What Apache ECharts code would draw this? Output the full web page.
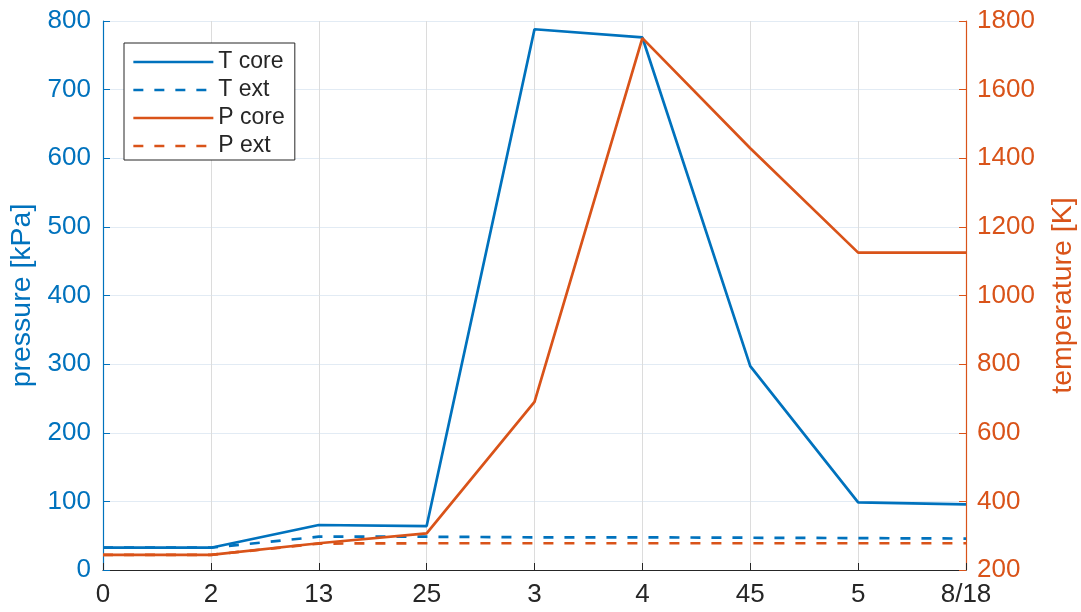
<!DOCTYPE html>
<html>
<head>
<meta charset="utf-8">
<script src="https://cdn.jsdelivr.net/npm/echarts@6/dist/echarts.min.js"></script>
<style>
  html, body { margin: 0; padding: 0; background: #fff; }
  #chart { width: 1081px; height: 612px; }
</style>
</head>
<body>
<div id="chart"></div>
<script>
// Stage labels along the x axis
const categories = ['0', '2', '13', '25', '3', '4', '45', '5', '8/18'];

// Left axis series (kPa)
const tCore = [32.5, 32.5, 65.6, 64, 788, 776, 297, 98.6, 95.7];
const tExt  = [32.5, 32.5, 48.5, 48.5, 47.6, 47.6, 47, 46.5, 45.8];

// Right axis series (K)
const pCore = [244, 244, 278, 307, 690, 1750, 1429, 1125, 1125];
const pExt  = [244, 244, 277, 278, 278, 278, 278, 278, 278];

const BLUE = '#0072BD';
const ORANGE = '#D95319';
const DARK = '#262626';
const FONT = '"Liberation Sans", Arial, sans-serif';

const chart = echarts.init(document.getElementById('chart'), null, { renderer: 'canvas' });

function lineSeries(name, data, color, dashed, yIndex) {
  return {
    name: name,
    type: 'line',
    yAxisIndex: yIndex,
    data: data,
    symbol: 'none',
    showSymbol: false,
    animation: false,
    lineStyle: { color: color, width: 2.7, type: dashed ? [10, 11] : 'solid' },
    itemStyle: { color: color }
  };
}

chart.setOption({
  animation: false,
  backgroundColor: '#fff',
  grid: { left: 103, right: 115, top: 21, bottom: 42, containLabel: false, outerBoundsMode: 'none' },
  legend: {
    orient: 'vertical',
    left: 124,
    top: 43,
    padding: [5, 10, 0, 8],
    itemWidth: 80,
    itemHeight: 14,
    itemGap: 0,
    backgroundColor: '#fff',
    borderColor: DARK,
    borderWidth: 1,
    borderRadius: 0,
    itemStyle: { opacity: 0 },
    lineStyle: { width: 2.7 },
    textStyle: { fontFamily: FONT, fontSize: 23, color: DARK, lineHeight: 28 },
    data: ['T core', 'T ext', 'P core', 'P ext']
  },
  xAxis: {
    type: 'category',
    data: categories,
    boundaryGap: false,
    axisLine: { show: true, lineStyle: { color: DARK, width: 1.2 } },
    axisTick: { show: true, inside: true, length: 7, lineStyle: { color: DARK } },
    axisLabel: { color: DARK, fontFamily: FONT, fontSize: 26, margin: 12 },
    splitLine: { show: true, lineStyle: { color: '#dcdcdc', width: 1 } }
  },
  yAxis: [
    {
      type: 'value',
      min: 0, max: 800, interval: 100,
      position: 'left',
      name: 'pressure [kPa]',
      nameLocation: 'middle',
      nameGap: 51,
      nameTextStyle: { color: BLUE, fontFamily: FONT, fontSize: 28.5 },
      axisLine: { show: true, lineStyle: { color: BLUE, width: 1.2 } },
      axisTick: { show: true, inside: true, length: 7, lineStyle: { color: BLUE } },
      axisLabel: { color: BLUE, fontFamily: FONT, fontSize: 26, margin: 12 },
      splitLine: { show: true, lineStyle: { color: '#e2ebf4', width: 1 } }
    },
    {
      type: 'value',
      min: 200, max: 1800, interval: 200,
      position: 'right',
      name: 'temperature [K]',
      nameLocation: 'middle',
      nameGap: 83,
      nameTextStyle: { color: ORANGE, fontFamily: FONT, fontSize: 28.5 },
      axisLine: { show: true, lineStyle: { color: ORANGE, width: 1.2 } },
      axisTick: { show: true, inside: true, length: 7, lineStyle: { color: ORANGE } },
      axisLabel: { color: ORANGE, fontFamily: FONT, fontSize: 26, margin: 11, formatter: v => String(v) },
      splitLine: { show: false }
    }
  ],
  series: [
    lineSeries('T core', tCore, BLUE, false, 0),
    lineSeries('T ext', tExt, BLUE, true, 0),
    lineSeries('P core', pCore, ORANGE, false, 1),
    lineSeries('P ext', pExt, ORANGE, true, 1)
  ]
});
</script>
</body>
</html>
